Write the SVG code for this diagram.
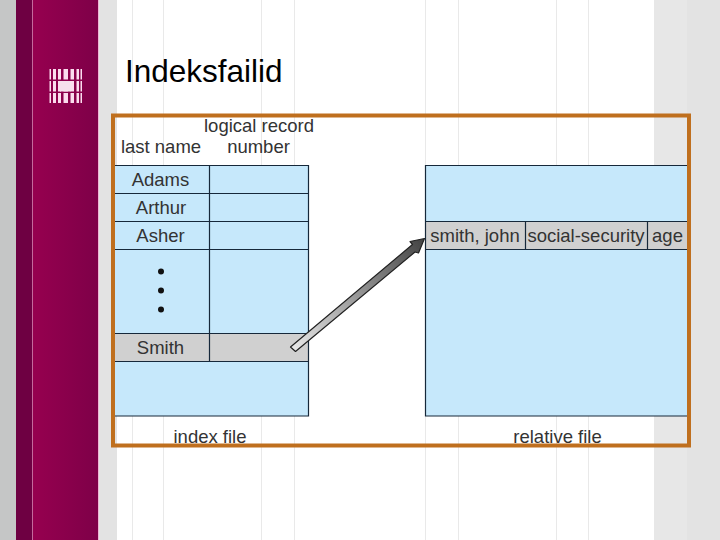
<svg xmlns="http://www.w3.org/2000/svg" width="720" height="540" viewBox="0 0 720 540">
<defs>
<linearGradient id="maroon" x1="0" y1="0" x2="1" y2="0"><stop offset="0" stop-color="#96004f"/><stop offset="1" stop-color="#7e0048"/></linearGradient>
<linearGradient id="arrowFill" gradientUnits="userSpaceOnUse" x1="292" y1="348" x2="424" y2="240"><stop offset="0" stop-color="#e8e8e8"/><stop offset="1" stop-color="#444"/></linearGradient>
</defs>
<style>
text{font-family:"Liberation Sans",Arial,sans-serif;fill:#333;font-size:18.500px}
.mid{text-anchor:middle}
.blue{fill:#c6e8fb}
.grey{fill:#d0d0d0}
.ln{stroke:#16283a;stroke-width:1.200;fill:none}
.guide{stroke:#e9e9e9;stroke-width:1}
.bar{fill:#fbdcee}
</style>
<g id="background">
<rect width="720" height="540" fill="#fff"/>
<rect x="0" width="16" height="540" fill="#c5c6c6"/>
<rect x="16" width="16" height="540" fill="#6e0042"/>
<rect x="32" width="1" height="540" fill="#c46a9c"/>
<rect x="33" width="65" height="540" fill="url(#maroon)"/>
<rect x="98" width="1" height="540" fill="#eeb6d4"/>
<rect x="99" width="18" height="540" fill="#e3e3e3"/>
<rect x="654" width="33" height="540" fill="#e7e7e7"/>
<rect x="687" width="33" height="540" fill="#e3e3e3"/>
<path class="guide" d="M132.500 0V540M163.500 0V540M261.500 0V540M294.500 0V540M425.500 0V540M458.500 0V540M556.500 0V540M588.500 0V540"/>
</g>
<g id="logo">
<path class="bar" d="M49.500 69h1.500v34h-1.500zM53 69h3v34h-3zM58 69h3v34h-3zM63.500 69h4.500v34h-4.500zM70.500 69h3.500v34h-3.500zM76.500 69h2.500v34h-2.500zM80.500 69h1.500v34h-1.500z"/>
<rect x="49" y="79.500" width="33" height="1.500" fill="#8c004c"/>
<rect x="49" y="91.500" width="33" height="1.500" fill="#8c004c"/>
<rect x="60" y="81" width="11" height="10.500" fill="#f6e0ec"/>
</g>
<text id="title" x="125" y="82" style="font-size:31.500px;fill:#000">Indeksfailid</text>
<g id="index-file">
<rect class="blue" x="114" y="165" width="194.500" height="251"/>
<rect class="grey" x="114" y="333.500" width="194.500" height="28"/>
<path class="ln" d="M114 165.500H308.500V416H114M114 193.500H308.500M114 221.500H308.500M114 249.500H308.500M114 333.500H308.500M114 361.500H308.500M209.500 165V361.500"/>
<text class="mid" x="160.500" y="186">Adams</text>
<text class="mid" x="161" y="214">Arthur</text>
<text class="mid" x="160.500" y="242">Asher</text>
<circle cx="161" cy="271.500" r="3" fill="#111"/>
<circle cx="161" cy="290.500" r="3" fill="#111"/>
<circle cx="161" cy="309.500" r="3" fill="#111"/>
<text class="mid" x="160.500" y="354">Smith</text>
<text class="mid" x="259" y="132">logical record</text>
<text class="mid" x="161" y="153">last name</text>
<text class="mid" x="258.500" y="153">number</text>
<text class="mid" x="210" y="443">index file</text>
</g>
<g id="relative-file">
<rect class="blue" x="425.500" y="165" width="263" height="251"/>
<rect class="grey" x="425.500" y="221.500" width="263" height="28"/>
<path class="ln" d="M688 165.500H425.500V416H688M425.500 221.500H688M425.500 249.500H688M525.500 221.500V249.500M647.500 221.500V249.500"/>
<text class="mid" x="475" y="242">smith, john</text>
<text class="mid" x="586" y="242">social-security</text>
<text class="mid" x="667.500" y="242">age</text>
<text class="mid" x="557.500" y="443">relative file</text>
</g>
<g id="connectors">
<path d="M290.500 347L295.500 351.500L415 252L418.500 253L424.500 238.500L410 241.500L412.500 244.500Z" fill="url(#arrowFill)" stroke="#222" stroke-width="1.200" stroke-linejoin="round"/>
</g>
<rect id="frame" x="113" y="115.500" width="576" height="330" fill="none" stroke="#bf6f1e" stroke-width="4"/>
</svg>
